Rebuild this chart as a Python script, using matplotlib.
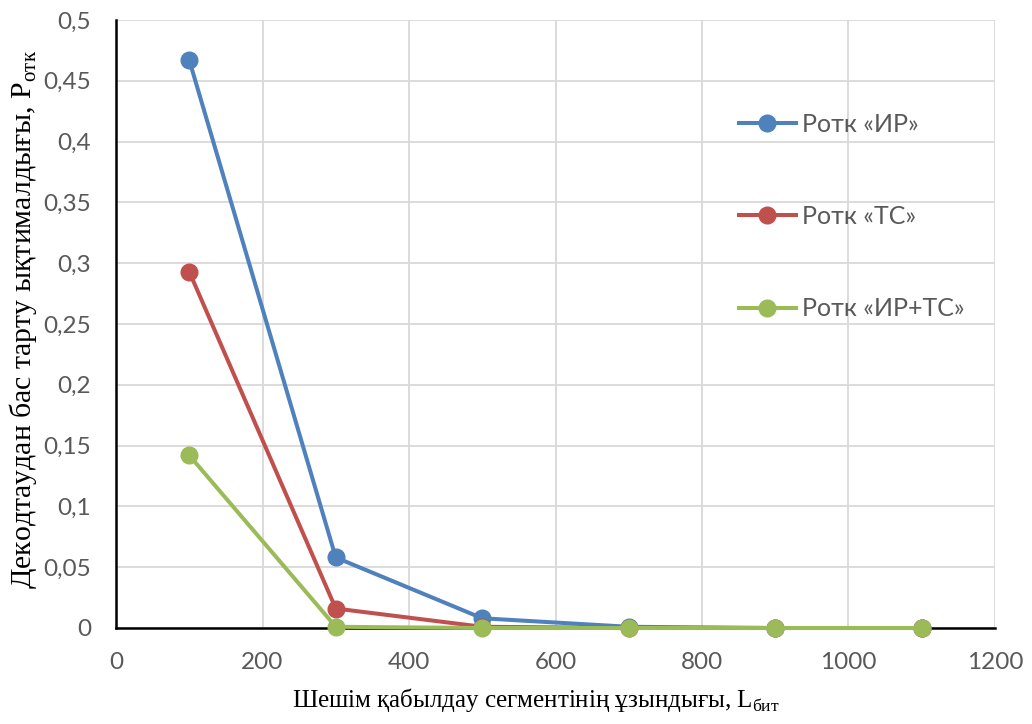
import matplotlib
matplotlib.use("Agg")
import matplotlib.pyplot as plt
from matplotlib.ticker import FuncFormatter, MultipleLocator

plt.rcParams['mathtext.fontset'] = 'custom'
plt.rcParams['mathtext.rm'] = 'Liberation Serif'

# данные
lengths = [100, 300, 500, 700, 900, 1100]
p_ir = [0.467, 0.058, 0.008, 0.001, 0.0, 0.0]
p_tc = [0.293, 0.016, 0.001, 0.0, 0.0, 0.0]
p_ir_tc = [0.142, 0.001, 0.0, 0.0, 0.0, 0.0]
labels = ["Ротк «ИР»", "Ротк «ТС»", "Ротк «ИР+ТС»"]
colors = ["#4F81BD", "#C0504D", "#9BBB59"]

fig = plt.figure(figsize=(10.32, 7.24), dpi=100)
ax = fig.add_axes([116 / 1032, 1 - 628 / 724, (995 - 116) / 1032, (628 - 20) / 724])

for ys, lab, c in zip([p_ir, p_tc, p_ir_tc], labels, colors):
    ax.plot(lengths, ys, color=c, lw=2.9, marker='o', ms=12, label=lab, clip_on=False, zorder=3)

ax.set_xlim(0, 1200)
ax.set_ylim(0, 0.5)
ax.xaxis.set_major_locator(MultipleLocator(200))
ax.yaxis.set_major_locator(MultipleLocator(0.05))
ax.yaxis.set_major_formatter(FuncFormatter(lambda v, p: ('%g' % round(v, 3)).replace('.', ',')))
ax.grid(True, color='#D9D9D9', lw=1.3)
ax.set_axisbelow(True)
for s in ['top', 'right']:
    ax.spines[s].set_visible(False)
for s in ['left', 'bottom']:
    ax.spines[s].set_linewidth(1.8)
    ax.spines[s].set_color('black')
ax.tick_params(length=0, labelsize=17.5, labelcolor='#595959')
ax.tick_params(axis='y', pad=18)
ax.tick_params(axis='x', pad=17)
for t in ax.get_xticklabels() + ax.get_yticklabels():
    t.set_fontfamily('Lato')

ax.set_xlabel("Шешім қабылдау сегментінің ұзындығы, L$_{\\mathrm{бит}}$",
              fontfamily='Liberation Serif', fontsize=18)
ax.set_ylabel("Декодтаудан бас тарту ықтималдығы, P$_{\\mathrm{отк}}$",
              fontfamily='Liberation Serif', fontsize=21.5)
ax.xaxis.set_label_coords(0.478, -0.095)
ax.yaxis.set_label_coords(-0.088, 0.508)

leg = fig.legend(loc='upper left', bbox_to_anchor=(726 / 1032, 1 - 100 / 724),
                 frameon=False, handlelength=2.3, handletextpad=0.25,
                 labelspacing=2.78, borderpad=0, prop={'family': 'Lato', 'size': 18})
for t in leg.get_texts():
    t.set_color('#595959')

fig.savefig("out.png", dpi=100)
